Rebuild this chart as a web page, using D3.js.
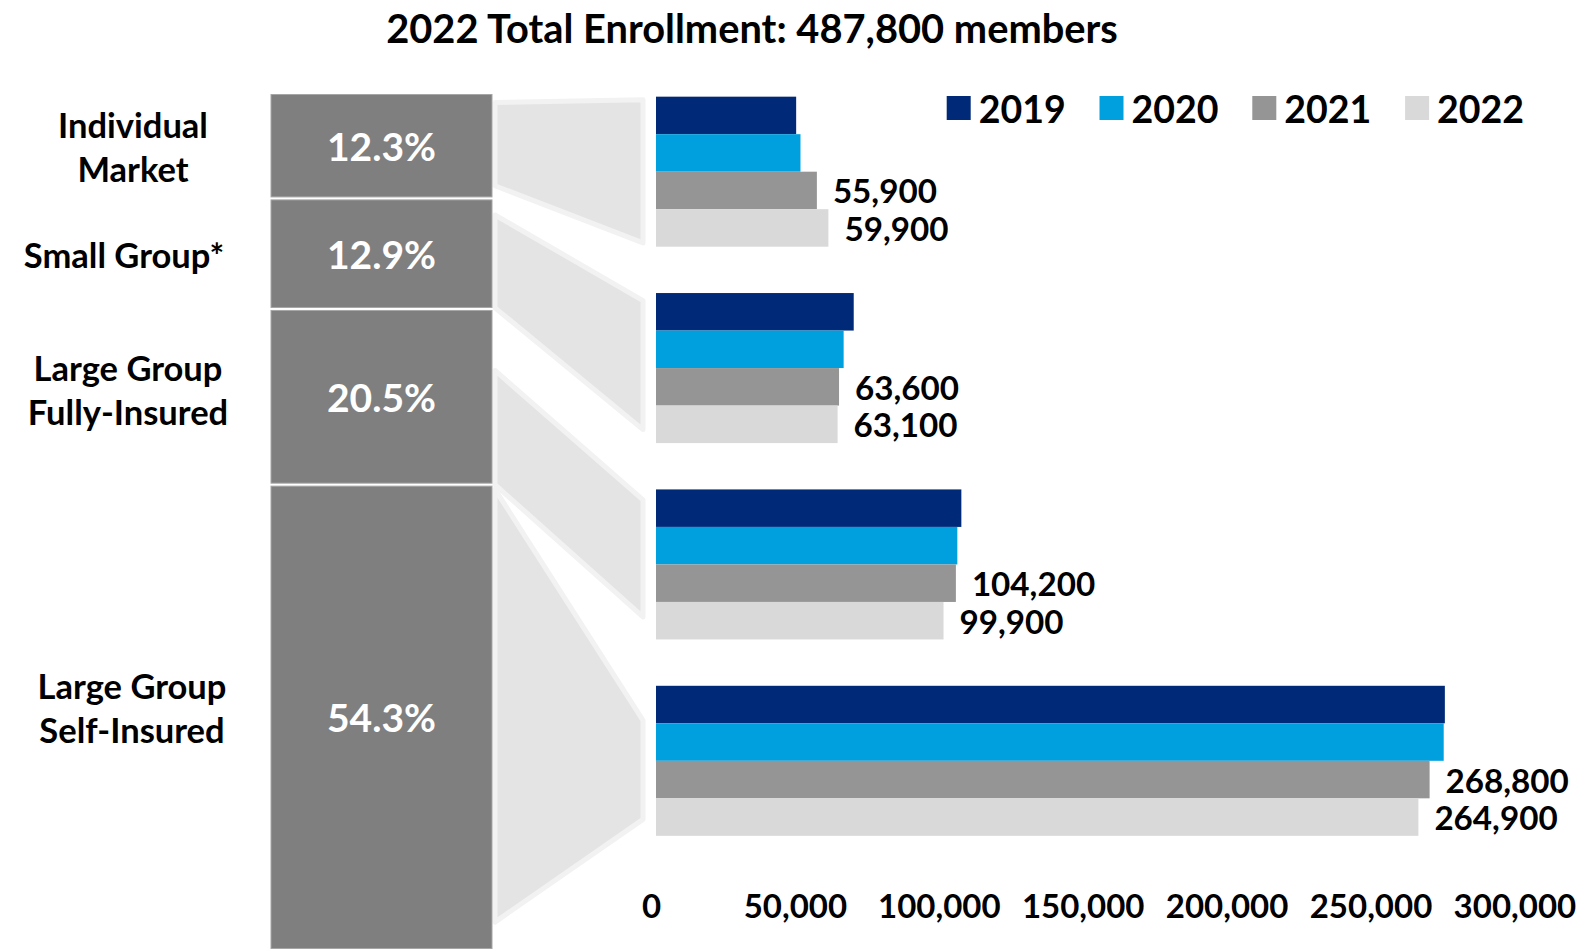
<!DOCTYPE html>
<html>
<head>
<meta charset="utf-8">
<script src="https://cdn.jsdelivr.net/npm/d3@7"></script>
<style>
  body { margin: 0; background: #fff; }
  svg { display: block; }
  text { font-family: Lato, "Open Sans", sans-serif; font-weight: 700; }
</style>
</head>
<body>
<svg id="chart"></svg>
<script>
// chart data
const categories = ["Individual Market", "Small Group*", "Large Group Fully-Insured", "Large Group Self-Insured"];
const categoryLines = [["Individual", "Market"], ["Small Group*"], ["Large Group", "Fully-Insured"], ["Large Group", "Self-Insured"]];
const years = ["2019", "2020", "2021", "2022"];
const enroll2019 = [48700, 68700, 106100, 274100];
const enroll2020 = [50200, 65200, 104700, 273700];
const enroll2021 = [55900, 63600, 104200, 268800];
const enroll2022 = [59900, 63100, 99900, 264900];
const share2022 = [12.3, 12.9, 20.5, 54.3];
const xTicks = [0, 50000, 100000, 150000, 200000, 250000, 300000];
const labelledYears = ["2021", "2022"];
const titleText = "2022 Total Enrollment: 487,800 members";

const yearColors = ["#002A78", "#00A0DF", "#959595", "#D9D9D9"];

// connector shapes: fractions of the column segment (left) and bar group (right)
const connectorShape = [
  { lt: 0.09, lb: 0.88, rt: 0.02, rb: 0.975 },
  { lt: 0.15, lb: 0.99, rt: 0.05, rb: 0.91 },
  { lt: 0.35, lb: 1.0, rt: 0.07, rb: 0.85 },
  { lt: 0.01, lb: 0.94, rt: 0.23, rb: 0.89 }
];
// small nudges for the category names
const nameShift = [1, 1, -7, -10];
const nameCenter = [131, 122, 126, 130];

const width = 1583, height = 949;
const svg = d3.select('#chart').attr('width', width).attr('height', height);

const series = [enroll2019, enroll2020, enroll2021, enroll2022];

const x = d3.scaleLinear().domain([0, 300000]).range([656, 1519.4]);
const y = d3.scaleBand().domain(categories).range([73.5, 859]).paddingInner(0.236).paddingOuter(0.118);
const yYear = d3.scaleBand().domain(years).range([0, y.bandwidth()]);
const yShare = d3.scaleLinear().domain([0, 100]).range([93, 950]);

const colLeft = 271, colRight = 492;
const connLeft = 495, connRight = 643;

// cumulative share segments
let acc = 0;
const segments = share2022.map((s, i) => {
  const seg = { cat: categories[i], start: acc, end: acc + s, value: s, i };
  acc += s;
  return seg;
});

// title
svg.append('text')
  .attr('x', 752).attr('y', 27)
  .attr('text-anchor', 'middle')
  .attr('dominant-baseline', 'central')
  .attr('font-size', 39.8)
  .attr('fill', '#000')
  .text(titleText);

// connectors
svg.append('g').selectAll('path')
  .data(segments)
  .enter()
  .append('path')
  .attr('d', d => {
    const c = connectorShape[d.i];
    const s0 = yShare(d.start), sh = yShare(d.end) - yShare(d.start);
    const b0 = y(d.cat), bh = y.bandwidth();
    return `M${connLeft},${s0 + c.lt * sh}L${connRight},${b0 + c.rt * bh}L${connRight},${b0 + c.rb * bh}L${connLeft},${s0 + c.lb * sh}Z`;
  })
  .attr('fill', '#e4e4e4')
  .attr('stroke', '#f2f2f2')
  .attr('stroke-width', 5)
  .attr('stroke-linejoin', 'round');

// stacked share column
svg.append('g').selectAll('rect')
  .data(segments)
  .enter()
  .append('rect')
  .attr('x', colLeft)
  .attr('y', d => yShare(d.start) + 1.5)
  .attr('width', colRight - colLeft)
  .attr('height', d => yShare(d.end) - yShare(d.start) - 3)
  .attr('fill', '#7f7f7f')
  .attr('stroke', '#a6a6a6')
  .attr('stroke-width', 1);

svg.append('g').selectAll('text')
  .data(segments)
  .enter()
  .append('text')
  .attr('x', (colLeft + colRight) / 2)
  .attr('y', d => (yShare(d.start) + yShare(d.end)) / 2)
  .attr('text-anchor', 'middle')
  .attr('dominant-baseline', 'central')
  .attr('font-size', 39)
  .attr('fill', '#fff')
  .text(d => d.value.toFixed(1) + '%');

// category names on the left
const names = svg.append('g').selectAll('text')
  .data(segments)
  .enter()
  .append('text')
  .attr('text-anchor', 'middle')
  .attr('font-size', 34.5)
  .attr('fill', '#000');

names.each(function (d) {
  const lines = categoryLines[d.i];
  const cy = (yShare(d.start) + yShare(d.end)) / 2 + nameShift[d.i];
  d3.select(this).selectAll('tspan')
    .data(lines)
    .enter()
    .append('tspan')
    .attr('x', nameCenter[d.i] + 2)
    .attr('y', (l, k) => cy + (k - (lines.length - 1) / 2) * 44)
    .attr('dominant-baseline', 'central')
    .text(l => l);
});

// bars
const groups = svg.append('g').selectAll('g')
  .data(categories)
  .enter()
  .append('g')
  .attr('transform', d => `translate(0,${y(d)})`);

groups.selectAll('rect')
  .data((c, i) => years.map((yr, k) => ({ yr, k, value: series[k][i] })))
  .enter()
  .append('rect')
  .attr('x', x(0))
  .attr('y', d => yYear(d.yr))
  .attr('width', d => x(d.value) - x(0))
  .attr('height', yYear.bandwidth())
  .attr('fill', d => yearColors[d.k]);

groups.selectAll('text')
  .data((c, i) => years.map((yr, k) => ({ yr, k, value: series[k][i] })).filter(d => labelledYears.includes(d.yr)))
  .enter()
  .append('text')
  .attr('x', d => x(d.value) + 16)
  .attr('y', d => yYear(d.yr) + yYear.bandwidth() / 2)
  .attr('dominant-baseline', 'central')
  .attr('font-size', 33.2)
  .attr('fill', '#000')
  .text(d => d3.format(',')(d.value));

// x axis, labels only
const axis = svg.append('g')
  .attr('transform', 'translate(0,906)')
  .call(d3.axisBottom(x).tickValues(xTicks).tickFormat(d3.format(',')).tickSize(0).tickPadding(0));
axis.select('.domain').remove();
axis.selectAll('text')
  .attr('y', 0)
  .attr('dy', '0.35em')
  .attr('dx', -5)
  .attr('font-size', 33)
  .attr('font-family', 'Lato, "Open Sans", sans-serif')
  .attr('font-weight', 700)
  .attr('fill', '#000');

// legend
const legend = svg.append('g').selectAll('g')
  .data(years)
  .enter()
  .append('g')
  .attr('transform', (d, i) => `translate(${946.7 + i * 152.8},96)`);
legend.append('rect')
  .attr('width', 24).attr('height', 24)
  .attr('fill', (d, i) => yearColors[i]);
legend.append('text')
  .attr('x', 32).attr('y', 12)
  .attr('dominant-baseline', 'central')
  .attr('font-size', 37.5)
  .attr('fill', '#000')
  .text(d => d);
</script>
</body>
</html>
